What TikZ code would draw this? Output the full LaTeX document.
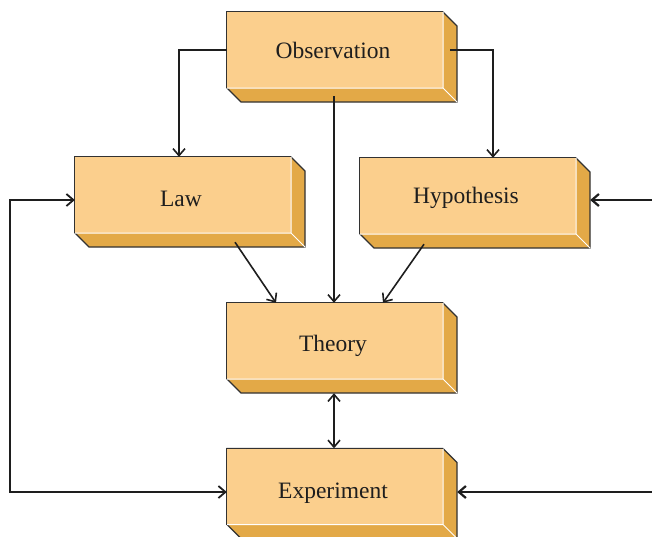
\documentclass[tikz,border=0pt]{standalone}
\usepackage{fontspec}
\setmainfont{Liberation Serif}
\usetikzlibrary{arrows.meta}
\definecolor{frontc}{RGB}{251,207,141}
\definecolor{sidec}{RGB}{227,169,71}
\definecolor{edgec}{RGB}{50,50,50}
\definecolor{inkc}{RGB}{30,30,30}
\tikzset{
  barb/.tip={Straight Barb[length=7pt,width=12pt]},
  slabfront/.style={rectangle, minimum width=216pt, minimum height=76pt, inner sep=0pt,
    fill=frontc},
  slabtext/.style={font=\fontsize{23.5}{28}\selectfont, text=inkc, inner sep=0pt},
  conn/.style={draw=inkc, line width=1.6pt},
  heavy/.style={draw=inkc, line width=2.2pt},
}
\newcommand{\slab}[5]{%
  \path[fill=sidec, draw=edgec, line width=1.2pt, line join=miter]
    (#2-108,#3-38) -- (#2+108,#3-38) -- (#2+122,#3-24) -- (#2+122,#3+52)
    -- (#2-94,#3+52) -- (#2-108,#3+38) -- cycle;
  \node[slabfront] (#1) at (#2,#3) {};
  \draw[white, line width=1pt] (#1.south west) -- (#1.south east) -- (#1.north east)
    (#1.south east) -- ++(14,14);
  \draw[edgec, line width=1.2pt] (#1.south west) -- (#1.north west) -- (#1.north east);
  \node[slabtext] (#1-label) at (#2-2,#3+#5) {#4};
}
\begin{document}
\begin{tikzpicture}[x=1pt,y=-1pt]
\clip (0,0) rectangle (652,536);
\fill[white] (0,0) rectangle (652,536);
\slab{obs}{335}{50}{Observation}{0}
\slab{law}{183}{195}{Law}{3.5}
\slab{hyp}{468}{196}{Hypothesis}{2}
\slab{theory}{335}{341}{Theory}{4.5}
\slab{exp}{335}{486.5}{Experiment}{6.5}
\coordinate (ltop) at (10,200);
\coordinate (lbot) at (10,492);
\coordinate (rtop) at (652,200);
\coordinate (rbot) at (652,492);
\draw[conn,-barb] (obs.west) -| ([xshift=-4pt]law.north);
\draw[conn,-barb] ([xshift=7pt]obs.east) -| ([xshift=25pt]hyp.north);
\draw[conn,-barb] ([shift={(-1pt,-8pt)}]obs.south) -- ([xshift=-1pt]theory.north);
\draw[conn,-barb] ([shift={(52pt,-9pt)}]law.south) -- ([xshift=-59pt]theory.north);
\draw[conn,-barb] ([shift={(-44pt,-10pt)}]hyp.south) -- ([xshift=48pt]theory.north);
\draw[conn,barb-barb] ([shift={(-1pt,-14pt)}]theory.south) -- ([xshift=-1pt]exp.north);
\draw[conn,barb-barb,line width=1.8pt] ([yshift=-5.5pt]exp.west) -- (lbot) -- (ltop) -- ([yshift=-5pt]law.west);
\draw[heavy,-barb] (rtop) -- ([shift={(14pt,-4pt)}]hyp.east);
\draw[heavy,-barb] (rbot) -- ([shift={(14pt,-5.5pt)}]exp.east);
\end{tikzpicture}
\end{document}
